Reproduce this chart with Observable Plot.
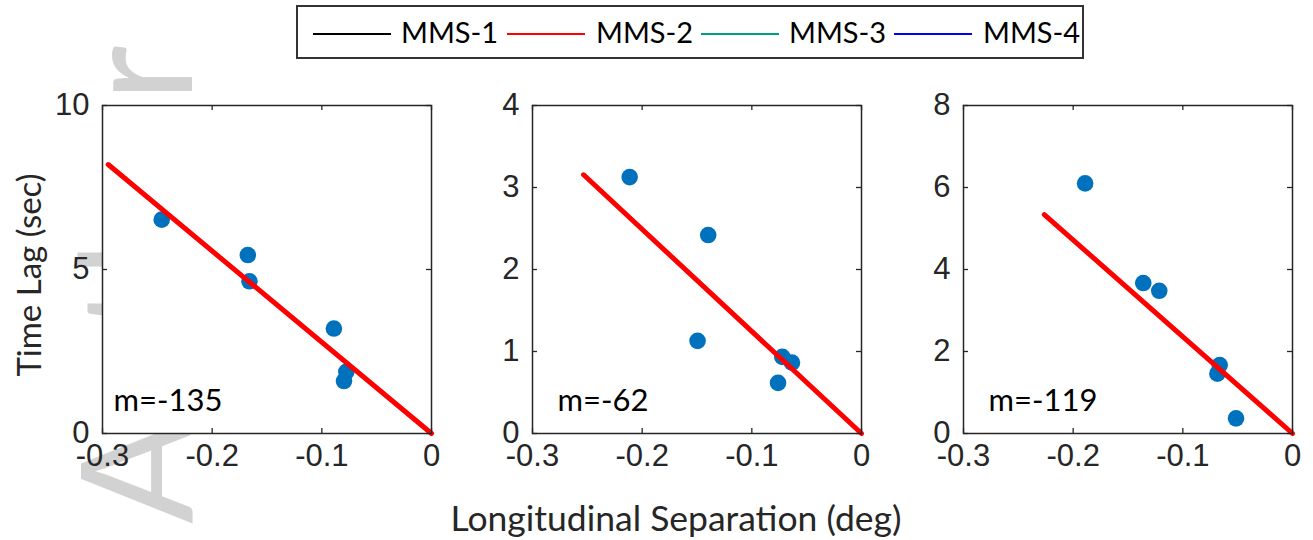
<!DOCTYPE html>
<html>
<head>
<meta charset="utf-8">
<script src="https://cdn.jsdelivr.net/npm/d3@7"></script>
<script src="https://cdn.jsdelivr.net/npm/@observablehq/plot@0.6"></script>
<style>
  html, body { margin: 0; padding: 0; background: #fff; }
  #root { position: relative; width: 1313px; height: 540px; overflow: hidden; background: #fff; }
  .abs { position: absolute; }
  .lbl { font-family: Lato, "Open Sans", sans-serif; color: #262626; white-space: nowrap; }
  #legend { position: absolute; left: 296px; top: 5px; width: 784px; height: 50px; border: 2px solid #333; background: #fff; box-sizing: content-box; }
  .sw { position: absolute; height: 2px; top: 26px; }
  .lt { position: absolute; top: 6px; font-family: Lato, sans-serif; font-size: 29px; color: #000; line-height: 38px; white-space: nowrap; }
</style>
</head>
<body>
<div id="root"></div>
<script>
// ---- data ----
const legendNames = ["MMS-1", "MMS-2", "MMS-3", "MMS-4"];
const legendColors = ["#000000", "#ff0000", "#00a07a", "#0000ff"];

const xTicks = [-0.3, -0.2, -0.1, 0];
const yTicks1 = [0, 5, 10];
const yTicks2 = [0, 1, 2, 3, 4];
const yTicks3 = [0, 2, 4, 6, 8];
const yMax = [10, 4, 8];

const sep1 = [-0.246, -0.1675, -0.166, -0.089, -0.0777, -0.0798];
const lag1 = [6.52, 5.44, 4.64, 3.20, 1.88, 1.60];
const sep2 = [-0.2114, -0.1398, -0.1495, -0.0722, -0.0634, -0.0761];
const lag2 = [3.127, 2.42, 1.13, 0.934, 0.865, 0.617];
const sep3 = [-0.1891, -0.1361, -0.1215, -0.0664, -0.0685, -0.0515];
const lag3 = [6.10, 3.67, 3.48, 1.67, 1.46, 0.37];

// fitted line endpoints (line passes through origin)
const fitStartX = [-0.2948, -0.2534, -0.2263];
const fitStartY = [8.20, 3.155, 5.34];
const slopeLabels = ["m=-135", "m=-62", "m=-119"];

// ---- layout ----
const root = document.getElementById("root");

// watermark
const wm = document.createElementNS("http://www.w3.org/2000/svg", "svg");
wm.setAttribute("width", 1313); wm.setAttribute("height", 540);
wm.setAttribute("class", "abs"); wm.style.left = "0px"; wm.style.top = "0px";
wm.innerHTML = `<text transform="translate(192,524) rotate(-90)" font-family="Lato, sans-serif" font-size="156" fill="#d2d2d2">Author</text>`;
root.appendChild(wm);

const frameLefts = [101.7, 531.7, 963];
const frameW = 329, frameH = 328, mL = 70, mT = 20, mR = 20, mB = 60;
const sepArr = [sep1, sep2, sep3], lagArr = [lag1, lag2, lag3], yTickArr = [yTicks1, yTicks2, yTicks3];
const fmt = d => String(d);
const tickFont = "'Liberation Sans', Arial, Helvetica, sans-serif";

for (let i = 0; i < 3; i++) {
  const pts = sepArr[i].map((s, j) => ({sep: s, lag: lagArr[i][j]}));
  const fit = [{sep: fitStartX[i], lag: fitStartY[i]}, {sep: 0, lag: 0}];
  const yt = yTickArr[i];
  const chart = Plot.plot({
    width: mL + frameW + mR,
    height: mT + frameH + mB,
    marginLeft: mL, marginRight: mR, marginTop: mT, marginBottom: mB,
    style: {background: "transparent", overflow: "visible", fontSize: "31px", fontFamily: tickFont, color: "#262626"},
    x: {domain: [-0.3, 0]},
    y: {domain: [0, yMax[i]]},
    marks: [
      Plot.frame({fill: "white", stroke: null}),
      Plot.axisX(xTicks, {anchor: "bottom", tickSize: 0, tickPadding: 10, tickFormat: fmt,
        fontSize: 31, fill: "#262626", label: null}),
      Plot.axisY(yt, {anchor: "left", tickSize: 0, tickPadding: 13, tickFormat: fmt,
        fontSize: 31, fill: "#262626", label: null}),
      Plot.ruleX(xTicks, {insetTop: frameH - 5, stroke: "#262626", strokeWidth: 1.3}),
      Plot.ruleX(xTicks, {insetBottom: frameH - 5, stroke: "#262626", strokeWidth: 1.3}),
      Plot.ruleY(yt, {insetRight: frameW - 5, stroke: "#262626", strokeWidth: 1.3}),
      Plot.ruleY(yt, {insetLeft: frameW - 5, stroke: "#262626", strokeWidth: 1.3}),
      Plot.dot(pts, {x: "sep", y: "lag", r: 8.3, fill: "#0072bd", stroke: null}),
      Plot.line(fit, {x: "sep", y: "lag", stroke: "#ff0000", strokeWidth: 5}),
      Plot.text([slopeLabels[i]], {frameAnchor: "bottom-left", text: d => d, textAnchor: "start",
        dx: i === 0 ? 11 : 25, dy: -23, lineAnchor: "bottom", fontSize: 31, fill: "#000",
        fontFamily: "Lato, sans-serif"}),
      Plot.frame({stroke: "#262626", strokeWidth: 1.5})
    ]
  });
  chart.classList.add("abs");
  chart.style.left = (frameLefts[i] - mL) + "px";
  chart.style.top = (105 - mT) + "px";
  root.appendChild(chart);
}

// axis titles
const xl = document.createElement("div");
xl.className = "abs lbl";
xl.textContent = "Longitudinal Separation (deg)";
xl.style.fontSize = "35.5px";
xl.style.left = "676px"; xl.style.top = "496px";
xl.style.transform = "translateX(-50%)";
root.appendChild(xl);

const yl = document.createElement("div");
yl.className = "abs lbl";
yl.textContent = "Time Lag (sec)";
yl.style.fontSize = "33px";
yl.style.left = "28px"; yl.style.top = "275px";
yl.style.transform = "translate(-50%, -50%) rotate(-90deg)";
root.appendChild(yl);

// legend
const lg = document.createElement("div");
lg.id = "legend";
const swX = [15, 209, 403, 596];
const txX = [103, 298, 491, 685];
legendNames.forEach((n, i) => {
  const s = document.createElement("div");
  s.className = "sw";
  s.style.left = swX[i] + "px"; s.style.width = "78px"; s.style.background = legendColors[i];
  lg.appendChild(s);
  const t = document.createElement("div");
  t.className = "lt";
  t.style.left = txX[i] + "px";
  t.textContent = n;
  lg.appendChild(t);
});
root.appendChild(lg);
</script>
</body>
</html>
